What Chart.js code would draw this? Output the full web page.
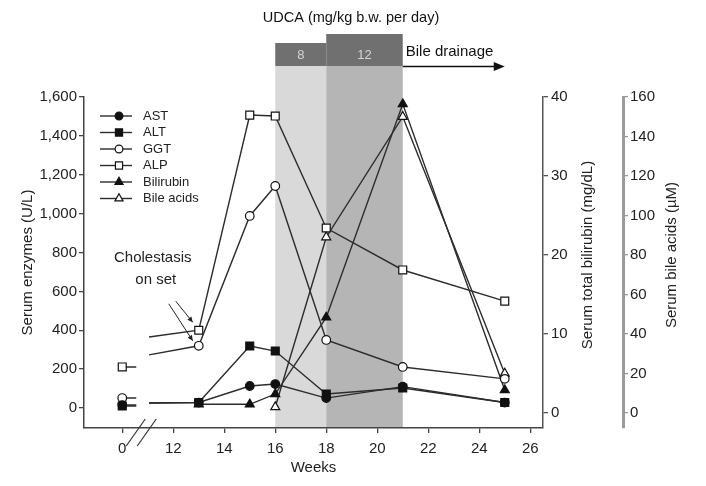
<!DOCTYPE html>
<html>
<head>
<meta charset="utf-8">
<script src="https://cdn.jsdelivr.net/npm/chart.js@4.4.1/dist/chart.umd.min.js"></script>
<style>
  html, body { margin: 0; padding: 0; background: #fff; }
  #wrap { width: 706px; height: 486px; position: relative; }
</style>
</head>
<body>
<div id="wrap"><canvas id="chart"></canvas></div>
<script>
// weeks of sampling (week 0 sits before the axis break)
const weeks = [0, 13, 15, 16, 18, 21, 25];
const ast = [15, 28, 113, 123, 51, 110, 28];
const alt = [10, 28, 319, 293, 72, 103, 28];
const ggt = [51, 320, 988, 1142, 350, 211, 150];
const alp = [211, 400, 1507, 1502, 926, 710, 550];
const bilirubin = [null, 1.1, 1.1, 2.4, 12.1, 39.1, 2.9];
const bileAcids = [null, null, null, 3, 89, 150, 20];
// level where each line comes back in after the axis break (AST, ALT, GGT, ALP, Bilirubin, Bile acids)
const resumeValues = [26, 26, 273, 365, null, null];

const seriesLabels = ['AST', 'ALT', 'GGT', 'ALP', 'Bilirubin', 'Bile acids'];

const xTicks = [10, 12, 14, 16, 18, 20, 22, 24, 26];
const xTickLabels = ['0', '12', '14', '16', '18', '20', '22', '24', '26'];
const enzymeTicks = [0, 200, 400, 600, 800, 1000, 1200, 1400, 1600];
const bilirubinTicks = [0, 10, 20, 30, 40];
const bileAcidTicks = [0, 20, 40, 60, 80, 100, 120, 140, 160];

const udcaDoses = ['8', '12'];
const udcaStart = [16, 18];
const udcaEnd = [18, 21];
const drainageFrom = 21;
const drainageTo = 25;

// axis break: week 0 is drawn at position 10
const BREAK_POS = 10;
const STUB_END = 10.55;
const GAP_POS = 10.8;
const RESUME_POS = 11.05;

const FONT = "'Liberation Sans', Arial, sans-serif";
Chart.defaults.font.family = FONT;
Chart.defaults.color = '#222';

function seriesPoints(values, resume) {
  const pts = [];
  if (values[0] != null) {
    pts.push({ x: BREAK_POS, y: values[0] });
    pts.push({ x: STUB_END, y: values[0], stub: true });
  }
  pts.push({ x: GAP_POS, y: null });
  if (resume != null) pts.push({ x: RESUME_POS, y: resume, stub: true });
  for (let i = 1; i < weeks.length; i++) {
    if (values[i] != null) pts.push({ x: weeks[i], y: values[i] });
  }
  return pts;
}

const seriesValues = [ast, alt, ggt, alp, bilirubin, bileAcids];
const axisIds = ['y', 'y', 'y', 'y', 'yBili', 'yBile'];
const markers = [
  { style: 'circle', fill: '#111', r: 4.3 },
  { style: 'rect', fill: '#111', r: 5.6 },
  { style: 'circle', fill: '#fff', r: 4.3 },
  { style: 'rect', fill: '#fff', r: 5.6 },
  { style: 'triangle', fill: '#111', r: 5.2 },
  { style: 'triangle', fill: '#fff', r: 5.2 },
];

const datasets = seriesLabels.map((label, i) => ({
  label: label,
  data: seriesPoints(seriesValues[i], resumeValues[i]),
  yAxisID: axisIds[i],
  borderColor: '#2c2c2c',
  borderWidth: 1.4,
  pointStyle: markers[i].style,
  pointBackgroundColor: markers[i].fill,
  pointBorderColor: '#111',
  pointBorderWidth: 1.2,
  pointRadius: ctx => (ctx.raw && ctx.raw.stub ? 0 : markers[i].r),
  spanGaps: false,
  tension: 0,
}));

function setTicks(list) {
  return scale => { scale.ticks = list.map(v => ({ value: v })); };
}

const axisGrid = { drawOnChartArea: false, tickLength: 5, color: '#444', lineWidth: 1.3 };

const extras = {
  id: 'extras',
  beforeDraw(chart) {
    const { ctx, chartArea: { top, bottom }, scales: { x } } = chart;
    ctx.save();
    // UDCA periods shading
    const shades = ['#d9d9d9', '#b5b5b5'];
    udcaStart.forEach((s, i) => {
      const x0 = x.getPixelForValue(s), x1 = x.getPixelForValue(udcaEnd[i]);
      ctx.fillStyle = shades[i];
      ctx.fillRect(x0, top - 31, x1 - x0, bottom - top + 31 - 1);
      // dose boxes
      const boxTop = i === 0 ? top - 54 : top - 63;
      ctx.fillStyle = '#707070';
      ctx.fillRect(x0, boxTop, x1 - x0, top - 31 - boxTop);
      ctx.fillStyle = '#d4d4d4';
      ctx.font = '13px ' + FONT;
      ctx.textAlign = 'center';
      ctx.textBaseline = 'middle';
      ctx.fillText(udcaDoses[i], (x0 + x1) / 2, top - 42);
    });
    // bile drainage arrow
    const a0 = x.getPixelForValue(drainageFrom), a1 = x.getPixelForValue(drainageTo);
    const ay = top - 30.5;
    ctx.strokeStyle = '#111';
    ctx.lineWidth = 1.5;
    ctx.beginPath();
    ctx.moveTo(a0, ay);
    ctx.lineTo(a1 - 6, ay);
    ctx.stroke();
    ctx.fillStyle = '#111';
    ctx.beginPath();
    ctx.moveTo(a1, ay);
    ctx.lineTo(a1 - 11, ay - 4.5);
    ctx.lineTo(a1 - 11, ay + 4.5);
    ctx.closePath();
    ctx.fill();
    ctx.font = '15px ' + FONT;
    ctx.textAlign = 'left';
    ctx.textBaseline = 'middle';
    ctx.fillText('Bile drainage', a0 + 3, top - 45);
    // title
    ctx.textAlign = 'center';
    ctx.font = '14.5px ' + FONT;
    ctx.fillText('UDCA (mg/kg b.w. per day)', (x.getPixelForValue(udcaStart[0]) + x.getPixelForValue(udcaEnd[1])) / 2 + 12, 18);
    ctx.restore();
  },
  afterDatasetsDraw(chart) {
    const { ctx, chartArea: { left, top, bottom }, scales } = chart;
    const x = scales.x;
    ctx.save();
    // legend
    ctx.font = '13px ' + FONT;
    ctx.textBaseline = 'middle';
    ctx.textAlign = 'left';
    chart.data.datasets.forEach((ds, i) => {
      const ly = top + 19 + i * 16.5;
      ctx.strokeStyle = '#2c2c2c';
      ctx.lineWidth = 1.4;
      ctx.beginPath();
      ctx.moveTo(left + 16, ly);
      ctx.lineTo(left + 48, ly);
      ctx.stroke();
      ctx.fillStyle = markers[i].fill;
      ctx.strokeStyle = '#111';
      ctx.lineWidth = 1.2;
      Chart.helpers.drawPoint(ctx, { pointStyle: markers[i].style, radius: markers[i].r * 0.9, borderWidth: 1.2 }, left + 35, ly);
      ctx.fillStyle = '#222';
      ctx.fillText(ds.label, left + 59, ly);
    });
    // cholestasis onset note and arrows
    const wk13 = x.getPixelForValue(weeks[1]);
    const pAlp = scales.y.getPixelForValue(alp[1]);
    const pGgt = scales.y.getPixelForValue(ggt[1]);
    ctx.font = '15px ' + FONT;
    ctx.textAlign = 'center';
    ctx.fillStyle = '#222';
    ctx.fillText('Cholestasis', wk13 - 46, pAlp - 72);
    ctx.fillText('on set', wk13 - 43, pAlp - 50);
    const arrow = (fx, fy, tx, ty) => {
      ctx.strokeStyle = '#222';
      ctx.lineWidth = 1;
      ctx.beginPath();
      ctx.moveTo(fx, fy);
      ctx.lineTo(tx, ty);
      ctx.stroke();
      const ang = Math.atan2(ty - fy, tx - fx);
      ctx.beginPath();
      ctx.moveTo(tx, ty);
      ctx.lineTo(tx - 6 * Math.cos(ang - 0.45), ty - 6 * Math.sin(ang - 0.45));
      ctx.lineTo(tx - 6 * Math.cos(ang + 0.45), ty - 6 * Math.sin(ang + 0.45));
      ctx.closePath();
      ctx.fillStyle = '#222';
      ctx.fill();
    };
    arrow(wk13 - 23, pAlp - 29, wk13 - 6, pAlp - 8);
    arrow(wk13 - 30, pGgt - 42, wk13 - 6, pGgt - 5);
    // axis break marks
    const bx = x.getPixelForValue(BREAK_POS);
    ctx.strokeStyle = '#333';
    ctx.lineWidth = 1.2;
    [4, 15].forEach(dx => {
      ctx.beginPath();
      ctx.moveTo(bx + dx, bottom + 18);
      ctx.lineTo(bx + dx + 19, bottom - 9);
      ctx.stroke();
    });
    // right axis titles (reading bottom to top)
    const rightTitle = (scale, text, dx, maxVal) => {
      const cy = (scale.getPixelForValue(0) + scale.getPixelForValue(maxVal)) / 2;
      ctx.save();
      ctx.translate(scale.left + dx, cy);
      ctx.rotate(-Math.PI / 2);
      ctx.font = '15px ' + FONT;
      ctx.fillStyle = '#222';
      ctx.textAlign = 'center';
      ctx.textBaseline = 'middle';
      ctx.fillText(text, 0, 0);
      ctx.restore();
    };
    rightTitle(scales.yBili, 'Serum total bilirubin (mg/dL)', 45, 40);
    rightTitle(scales.yBile, 'Serum bile acids (\u00b5M)', 49, 160);
    ctx.restore();
  }
};

new Chart(document.getElementById('chart'), {
  type: 'line',
  data: { datasets: datasets },
  options: {
    responsive: true,
    maintainAspectRatio: false,
    animation: false,
    layout: { padding: { top: 97, left: 0, right: 0, bottom: 0 } },
    plugins: { legend: { display: false }, tooltip: { enabled: false } },
    scales: {
      x: {
        type: 'linear',
        min: 8.5,
        max: 26.5,
        afterBuildTicks: setTicks(xTicks),
        afterFit: s => { s.height = 58; },
        ticks: { callback: (v, i) => xTickLabels[i], padding: 7, font: { size: 15 }, maxRotation: 0, autoSkip: false },
        grid: axisGrid,
        border: { color: '#444', width: 1.5 },
        title: { display: true, text: 'Weeks', font: { size: 15 }, padding: { top: 0, bottom: 9 } },
      },
      y: {
        position: 'left',
        min: -103,
        max: 1600,
        afterBuildTicks: setTicks(enzymeTicks),
        afterFit: s => { s.width = 84; },
        ticks: { padding: 2, font: { size: 15 } },
        grid: axisGrid,
        border: { color: '#444', width: 1.5 },
        title: { display: true, text: 'Serum enzymes (U/L)', font: { size: 15 }, padding: { top: 19, bottom: 0 } },
      },
      yBili: {
        position: 'right',
        weight: 0,
        min: -1.9,
        max: 40,
        afterBuildTicks: setTicks(bilirubinTicks),
        afterFit: s => { s.width = 80; },
        ticks: { padding: 3, font: { size: 15 } },
        grid: { drawOnChartArea: false, tickLength: 5, color: '#555', lineWidth: 1.3 },
        border: { color: '#555', width: 1.5 },
      },
      yBile: {
        position: 'right',
        weight: 1,
        min: -7.6,
        max: 160,
        afterBuildTicks: setTicks(bileAcidTicks),
        afterFit: s => { s.width = 83; },
        ticks: { padding: 2, font: { size: 15 } },
        grid: { drawOnChartArea: false, tickLength: 5, color: '#999', lineWidth: 1.3 },
        border: { color: '#9a9a9a', width: 3 },
      },
    },
  },
  plugins: [extras],
});
</script>
</body>
</html>
